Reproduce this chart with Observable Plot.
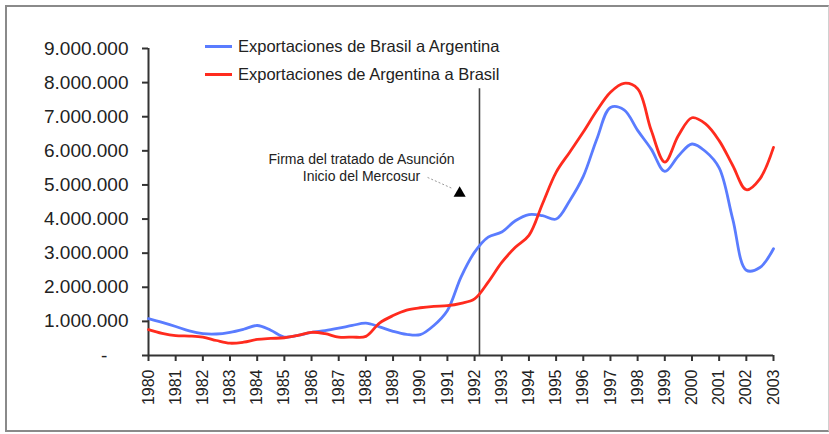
<!DOCTYPE html>
<html><head><meta charset="utf-8">
<script src="https://cdn.jsdelivr.net/npm/d3@7"></script>
<script src="https://cdn.jsdelivr.net/npm/@observablehq/plot@0.6"></script>
<style>
body{margin:0;background:#fff;}
#wrap{position:relative;width:829px;height:434px;font-family:"Liberation Sans",Arial,sans-serif;overflow:hidden;}
#frame{position:absolute;left:5px;top:5px;width:824px;height:427px;border:2px solid #8a8a8a;border-right:1px solid #d0d0d0;box-sizing:border-box;pointer-events:none}
.leg{position:absolute;left:205px;height:20px;font-size:16.5px;color:#222;display:flex;align-items:center;white-space:nowrap}
.leg .sw{display:inline-block;width:27px;height:3px;margin-right:6px}
#chart{position:absolute;left:0;top:0}
</style></head>
<body>
<div id="wrap">
  <div id="chart"></div>
  <div class="leg" id="leg1" style="top:36px"></div>
  <div class="leg" id="leg2" style="top:64px"></div>
  <div id="frame"></div>
</div>
<script>
const years = [1980,1980.5,1981,1981.5,1982,1982.5,1983,1983.5,1984,1984.5,1985,1985.5,1986,1986.5,1987,1987.5,1988,1988.5,1989,1989.5,1990,1990.5,1991,1991.5,1992,1992.5,1993,1993.5,1994,1994.5,1995,1995.5,1996,1996.5,1997,1997.5,1998,1998.5,1999,1999.5,2000,2000.5,2001,2001.5,2002,2002.5,2003];
const brasilArgentina = [1080000,970000,850000,720000,640000,630000,680000,770000,880000,740000,540000,590000,680000,730000,800000,880000,950000,840000,710000,620000,610000,880000,1320000,2300000,3030000,3470000,3620000,3950000,4130000,4100000,4000000,4540000,5250000,6350000,7270000,7200000,6600000,6050000,5400000,5850000,6200000,5980000,5500000,4000000,2500000,2580000,3130000];
const argentinaBrasil = [760000,650000,580000,570000,540000,440000,360000,390000,470000,500000,520000,590000,680000,640000,540000,540000,560000,950000,1170000,1330000,1400000,1440000,1460000,1530000,1660000,2150000,2730000,3170000,3520000,4450000,5370000,5960000,6550000,7180000,7720000,7980000,7820000,6600000,5670000,6450000,6970000,6790000,6300000,5570000,4860000,5180000,6100000];
const seriesNames = ["Exportaciones de Brasil a Argentina", "Exportaciones de Argentina a Brasil"];
const seriesColors = ["#5a7cff", "#ff2b1e"];
const yearTicks = [1980,1981,1982,1983,1984,1985,1986,1987,1988,1989,1990,1991,1992,1993,1994,1995,1996,1997,1998,1999,2000,2001,2002,2003];
const valueTicks = [0,1000000,2000000,3000000,4000000,5000000,6000000,7000000,8000000,9000000];
const annotationText = ["Firma del tratado de Asunción\nInicio del Mercosur"];
const mercosurYear = 1992.18;

const rows = [];
years.forEach((y, i) => {
  rows.push({year: y, value: brasilArgentina[i], serie: seriesNames[0]});
  rows.push({year: y, value: argentinaBrasil[i], serie: seriesNames[1]});
});

const loc = d3.formatLocale({decimal: ",", thousands: ".", grouping: [3], currency: ["$", ""]});
const fmt = loc.format(",d");

const chart = Plot.plot({
  width: 829, height: 434,
  marginLeft: 148, marginRight: 56, marginTop: 48, marginBottom: 79,
  style: {fontFamily: '"Liberation Sans", Arial, sans-serif', color: "#222", background: "transparent"},
  x: {domain: [1980, 2003]},
  y: {domain: [0, 9000000]},
  color: {domain: seriesNames, range: seriesColors},
  marks: [
    Plot.axisY({ticks: valueTicks, tickFormat: v => v === 0 ? "-\u00a0\u00a0\u00a0\u00a0" : fmt(v), tickSize: 6, tickPadding: 14, fontSize: 19, label: null, stroke: "#333", strokeWidth: 2}),
    Plot.axisX({ticks: yearTicks, tickFormat: d => String(d), tickRotate: -90, tickSize: 6, tickPadding: 8, fontSize: 16, label: null, stroke: "#333", strokeWidth: 2}),
    Plot.ruleX([1980], {y1: 0, y2: 9000000, stroke: "#333", strokeWidth: 2}),
    Plot.ruleX([mercosurYear], {y1: 0, y2: 7820000, stroke: "#444", strokeWidth: 1.6}),
    Plot.line(rows, {x: "year", y: "value", stroke: "serie", z: "serie", curve: "catmull-rom", strokeWidth: 2.8}),
    Plot.ruleY([0], {x1: 1980, x2: 2003, stroke: "#333", strokeWidth: 2}),
    Plot.text(annotationText, {x: 1987.84, y: 5520000, text: d => d, fontSize: 14, textAnchor: "middle", lineHeight: 1.2, fill: "#222"}),
    Plot.link([0], {x1: 1990.27, y1: 5220000, x2: 1991.2, y2: 4890000, stroke: "#999", strokeWidth: 1, strokeDasharray: "2,2"}),
    Plot.dot([0], {x: 1991.45, y: 4760000, symbol: "triangle", r: 4.5, fill: "#000", stroke: "none"})
  ]
});
document.getElementById("chart").appendChild(chart);

[["leg1", 0], ["leg2", 1]].forEach(([id, i]) => {
  const el = document.getElementById(id);
  const sw = document.createElement("span");
  sw.className = "sw";
  sw.style.background = seriesColors[i];
  el.appendChild(sw);
  el.appendChild(document.createTextNode(seriesNames[i]));
});
</script>
</body></html>
